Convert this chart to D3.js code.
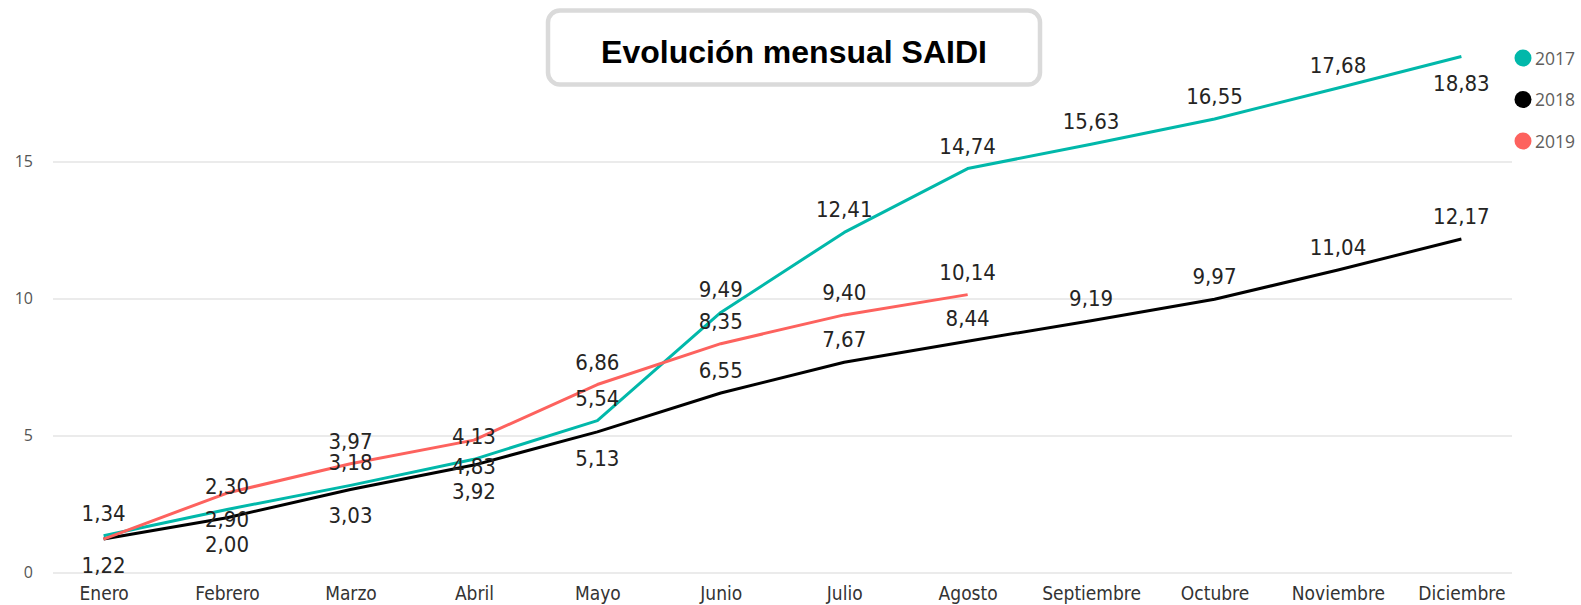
<!DOCTYPE html>
<html lang="es">
<head>
  <meta charset="UTF-8">
  <title>Evolución mensual SAIDI</title>
  <script src="https://d3js.org/d3.v7.min.js"></script>
  <style>
    body { margin: 0; background: #fff; }
    .cond { font-family: "DejaVu Sans Condensed", "Liberation Sans Narrow", "DejaVu Sans", sans-serif; font-stretch: condensed; }
  </style>
</head>
<body>
  <svg id="chart" width="1581" height="605"></svg>
  <script>
    // data
    const months = ["Enero", "Febrero", "Marzo", "Abril", "Mayo", "Junio",
      "Julio", "Agosto", "Septiembre", "Octubre", "Noviembre", "Diciembre"];
    const years = ["2017", "2018", "2019"];
    const saidi2017 = [1.34, 2.30, 3.18, 4.13, 5.54, 9.49, 12.41, 14.74, 15.63, 16.55, 17.68, 18.83];
    const saidi2018 = [1.22, 2.00, 3.03, 3.92, 5.13, 6.55, 7.67, 8.44, 9.19, 9.97, 11.04, 12.17];
    const saidi2019 = [1.22, 2.90, 3.97, 4.83, 6.86, 8.35, 9.40, 10.14];
    const yTicks = [0, 5, 10, 15];
    const colors = ["#01B8AA", "#000000", "#FD625E"];

    const series = years.map((yr, i) => ({
      year: yr,
      color: colors[i],
      values: [saidi2017, saidi2018, saidi2019][i].map((v, j) => ({ month: months[j], value: v }))
    }));

    const plotLeft = 53, plotRight = 1512, plotTop = 56.5, plotBottom = 572.5;
    const svg = d3.select("#chart");

    const x = d3.scalePoint()
      .domain(months)
      .range([plotLeft, plotRight])
      .padding(0.41);

    const y = d3.scaleLinear()
      .domain([0, d3.max(saidi2017)])
      .range([plotBottom, plotTop]);

    // gridlines + y labels
    const yAxis = svg.append("g")
      .attr("transform", `translate(${plotLeft},0)`)
      .call(d3.axisLeft(y).tickValues(yTicks).tickSize(-(plotRight - plotLeft)).tickPadding(20).tickFormat(d3.format("d")));
    yAxis.select(".domain").remove();
    yAxis.selectAll(".tick line").attr("stroke", "#ebebeb").attr("stroke-width", 2);
    yAxis.selectAll(".tick text")
      .attr("fill", "#555")
      .style("font-family", "'Open Sans', 'Noto Sans', sans-serif")
      .style("font-size", "16px");

    // x labels
    const xAxis = svg.append("g")
      .attr("transform", `translate(0,${plotBottom})`)
      .call(d3.axisBottom(x).tickSize(0).tickPadding(14));
    xAxis.select(".domain").remove();
    xAxis.selectAll(".tick text")
      .attr("class", "cond")
      .attr("fill", "#333")
      .style("font-size", "19px");

    // lines
    const line = d3.line()
      .x(d => x(d.month))
      .y(d => y(d.value));

    svg.append("g")
      .selectAll("path")
      .data(series)
      .join("path")
      .attr("fill", "none")
      .attr("stroke", d => d.color)
      .attr("stroke-width", 3)
      .attr("stroke-linejoin", "round")
      .attr("d", d => line(d.values));

    // data labels: try above, then below, skip when it would overlap
    const placed = {};
    const labels = [];
    series.forEach(s => {
      s.values.forEach(d => {
        const py = y(d.value);
        const taken = placed[d.month] || (placed[d.month] = []);
        const spots = [py - 23, py + 26];
        const cy = spots.find(c => c >= plotTop && taken.every(t => Math.abs(t - c) >= 20.5));
        if (cy === undefined) return;
        taken.push(cy);
        labels.push({ x: x(d.month), cy: cy, text: d3.format(".2f")(d.value).replace(".", ",") });
      });
    });

    svg.append("g")
      .selectAll("text")
      .data(labels)
      .join("text")
      .attr("class", "cond")
      .attr("x", d => d.x)
      .attr("y", d => d.cy + 8)
      .attr("text-anchor", "middle")
      .attr("fill", "#252423")
      .style("font-size", "22px")
      .text(d => d.text);

    // title box
    svg.append("rect")
      .attr("x", 548).attr("y", 10.5)
      .attr("width", 492).attr("height", 74)
      .attr("rx", 12)
      .attr("fill", "#fff")
      .attr("stroke", "#dadada")
      .attr("stroke-width", 4.5);
    svg.append("text")
      .attr("x", 794).attr("y", 63)
      .attr("text-anchor", "middle")
      .style("font-family", "'Liberation Sans', Arial, sans-serif")
      .style("font-weight", "bold")
      .style("font-size", "32px")
      .text("Evolución mensual SAIDI");

    // legend
    const legend = svg.append("g")
      .selectAll("g")
      .data(series)
      .join("g")
      .attr("transform", (d, i) => `translate(1523,${58 + i * 41.5})`);
    legend.append("circle").attr("r", 8.5).attr("fill", d => d.color);
    legend.append("text")
      .attr("x", 12)
      .attr("y", 6.5)
      .attr("fill", "#605E5C")
      .style("font-family", "'Open Sans', 'Noto Sans', sans-serif")
      .style("font-size", "17.5px")
      .text(d => d.year);
  </script>
</body>
</html>
